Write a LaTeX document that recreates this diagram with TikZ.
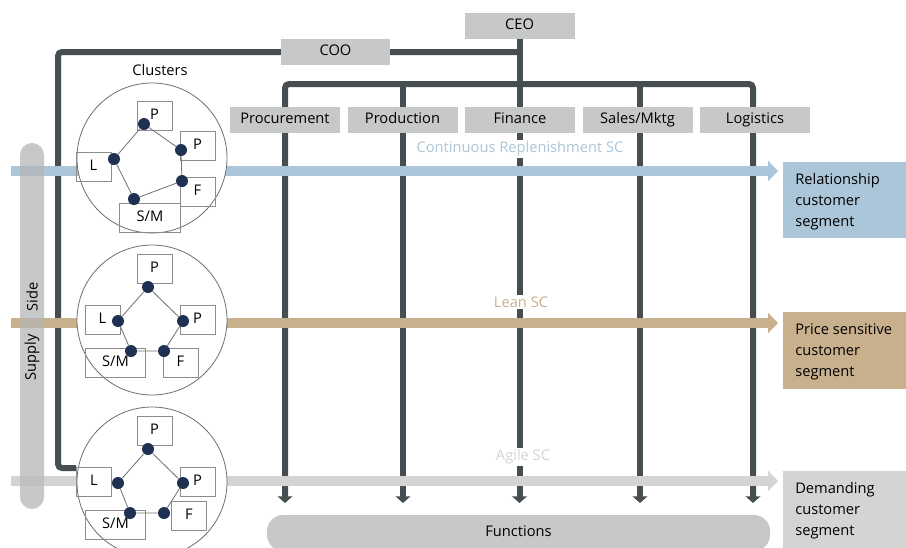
\documentclass[tikz,border=0pt]{standalone}
\usepackage{fontspec}
\setmainfont{Open Sans}
\usetikzlibrary{arrows.meta}
\definecolor{orgdark}{HTML}{474E52}
\definecolor{boxgray}{HTML}{C7C8CA}
\definecolor{crblue}{HTML}{ABC6D8}
\definecolor{leantan}{HTML}{C8B08C}
\definecolor{agilegray}{HTML}{D4D5D2}
\definecolor{dotnavy}{HTML}{1F3152}
\definecolor{clline}{HTML}{6E6F71}
\pgfdeclarelayer{bgw}
\pgfdeclarelayer{orgl}
\pgfdeclarelayer{mid}
\pgfsetlayers{bgw,orgl,mid,main}
\tikzset{
  orgbox/.style={fill=boxgray, minimum width=82.5pt, minimum height=19.5pt, inner sep=0pt, text=black, text height=8pt, text depth=2.6pt},
  orgline/.style={draw=orgdark, line width=4.5pt, rounded corners=3pt},
  orgtip/.tip={Triangle[width=11pt,length=5pt]},
  orgarrow/.style={orgline, -orgtip},
  band/.style={line width=7.5pt, -{Triangle[width=15pt,length=7.5pt]}},
  sclabel/.style={fill=white, inner sep=1.5pt},
  clcircle/.style={circle, draw=clline, line width=0.6pt, fill=white, minimum size=112.5pt, inner sep=0pt},
  cbox/.style={draw=clline!80, line width=0.7pt, minimum width=26.25pt, minimum height=21.75pt, inner sep=0pt, text height=8pt, text depth=2.6pt},
  cboxw/.style={cbox, minimum width=45.5pt},
  cdot/.style={circle, fill=dotnavy, minimum size=9pt, inner sep=0pt},
  clink/.style={draw=clline, line width=0.6pt},
  segbox/.style={minimum width=92.25pt, inner sep=0pt, anchor=north west},
  segtext/.style={align=left, anchor=west, inner sep=0pt},
}
\begin{document}
\begin{tikzpicture}[x=0.75pt,y=-0.75pt, font=\fontsize{11}{15.75}\selectfont]
\useasboundingbox (0,0) rectangle (906,547);
\begin{pgfonlayer}{bgw}
\fill[white] (0,0) rectangle (906,547);
\end{pgfonlayer}

% ---------- org boxes ----------
\node[orgbox] (ceo) at (519.5,26) {CEO};
\node[orgbox, minimum width=81.75pt] (coo) at (335.5,52) {COO};
\node[orgbox] (proc) at (285,120) {Procurement};
\node[orgbox] (prod) at (402.5,120) {Production};
\node[orgbox] (fin) at (520,120) {Finance};
\node[orgbox] (sales) at (637.5,120) {Sales/Mktg};
\node[orgbox] (logi) at (755,120) {Logistics};

\coordinate (h1) at (285,84);
\coordinate (h2) at (403,84);
\coordinate (h4) at (640,84);
\coordinate (h5) at (753,84);
\coordinate (a1) at (285,503);
\coordinate (a2) at (403,503);
\coordinate (a3) at (519.5,503);
\coordinate (a4) at (640,503);
\coordinate (a5) at (753,503);
\coordinate (ceoj) at (519.5,52);
\coordinate (cool) at (58,52);
\coordinate (coolb) at (58,468);

% ---------- clusters ----------
% cluster 1
\node[clcircle] (cl1) at (152,158) {};
\node[cbox] (c1P1) at (154.5,115.5) {P};
\node[cbox] (c1P2) at (197.5,146) {P};
\node[cbox] (c1F) at (197.5,192) {F};
\node[cboxw] (c1SM) at (150,217.5) {S/M};
\node[cbox] (c1L) at (93.5,167) {L};
\node[cdot] (c1d1) at (144,124) {};
\node[cdot] (c1d2) at (181,150) {};
\node[cdot] (c1d3) at (182,181) {};
\node[cdot] (c1d4) at (134,199) {};
\node[cdot] (c1d5) at (114,159) {};
\draw[clink] (c1d1) -- (c1d2) -- (c1d3) -- (c1d4) -- (c1d5) -- (c1d1);
\node (clusters) at (160,70) {Clusters};

% cluster 2
\node[clcircle] (cl2) at (152,320) {};
\node[cbox] (c2P1) at (154.5,268.5) {P};
\node[cbox] (c2P2) at (197.5,320) {P};
\node[cbox] (c2F) at (180.5,362.5) {F};
\node[cboxw] (c2SM) at (115.5,362.5) {S/M};
\node[cbox] (c2L) at (102.5,320) {L};
\node[cdot] (c2d1) at (148,287) {};
\node[cdot] (c2d2) at (183,321) {};
\node[cdot] (c2d3) at (164,351) {};
\node[cdot] (c2d4) at (131,351) {};
\node[cdot] (c2d5) at (118,321) {};
\draw[clink] (c2d1) -- (c2d2) -- (c2d3) -- (c2d4) -- (c2d5) -- (c2d1);

% cluster 3
\node[clcircle] (cl3) at (152,482) {};
\node[cbox] (c3P1) at (154.5,430.5) {P};
\node[cbox] (c3P2) at (197.5,481.5) {P};
\node[cbox] (c3F) at (189,516) {F};
\node[cboxw] (c3SM) at (115.5,524.5) {S/M};
\node[cbox] (c3L) at (94,481.5) {L};
\node[cdot] (c3d1) at (148,449) {};
\node[cdot] (c3d2) at (183,483) {};
\node[cdot] (c3d3) at (164,513) {};
\node[cdot] (c3d4) at (130,513) {};
\node[cdot] (c3d5) at (118,483) {};
\draw[clink] (c3d1) -- (c3d2) -- (c3d3) -- (c3d4) -- (c3d5) -- (c3d1);

% ---------- segments and functions ----------
\node[segbox, fill=crblue, minimum height=57pt] (relseg) at (783,162) {};
\node[segtext] (reltext) at (795,202) {Relationship\\customer\\segment};
\node[segbox, fill=leantan, minimum height=57.75pt] (priseg) at (783,312) {};
\node[segtext] (pritext) at (795,352) {Price sensitive\\customer\\segment};
\node[segbox, fill=agilegray, minimum height=60pt] (demseg) at (783,471) {};
\node[segtext] (demtext) at (795,511) {Demanding\\customer\\segment};
\node[fill=boxgray, rounded corners=12pt, minimum width=377.25pt, minimum height=27pt, inner sep=0pt] (funcs) at (518.5,533) {};
\node (functxt) at (518.5,531) {Functions};

% ---------- org lines ----------
\begin{pgfonlayer}{orgl}
\draw[orgline, orgtip-orgtip] (a1) -- (h1) -- (h5) -- (a5);
\draw[orgarrow] (h2) -- (a2);
\draw[orgarrow] (h4) -- (a4);
\draw[orgarrow] (ceo.south) -- (a3);
\draw[orgline] (ceoj) -- (cool) -- (coolb) -- (c3L.north west |- coolb);
\end{pgfonlayer}

% ---------- bands ----------
\begin{pgfonlayer}{mid}
\coordinate (crs) at (11,171);
\coordinate (cre) at (778,171);
\coordinate (lns) at (11,323);
\coordinate (lne) at (778,323);
\coordinate (ags) at (11,481);
\coordinate (age) at (778,481);
\draw[band, crblue] (crs) -- (cre);
\draw[band, leantan] (lns) -- (lne);
\draw[band, agilegray] (ags) -- (age);
\node[fill=boxgray, rounded corners=9pt, minimum width=18pt, minimum height=274.5pt, inner sep=0pt] (supply) at (32,326) {};
\fill[crblue!80!black, opacity=0.35] (20,166) rectangle (44,176);
\fill[leantan!80!black, opacity=0.35] (20,318) rectangle (44,328);
\fill[agilegray!80!black, opacity=0.25] (20,476) rectangle (44,486);
\node[rotate=90] (supplytxt) at (32,357) {Supply};
\node[rotate=90] (sidetxt) at (32,297) {Side};
\node[sclabel, text=crblue] (crlab) at (520,149) {Continuous Replenishment SC};
\node[sclabel, text=leantan] (leanlab) at (521,302) {Lean SC};
\node[sclabel, text=agilegray] (agilelab) at (523,457) {Agile SC};
\end{pgfonlayer}
\end{tikzpicture}
\end{document}
